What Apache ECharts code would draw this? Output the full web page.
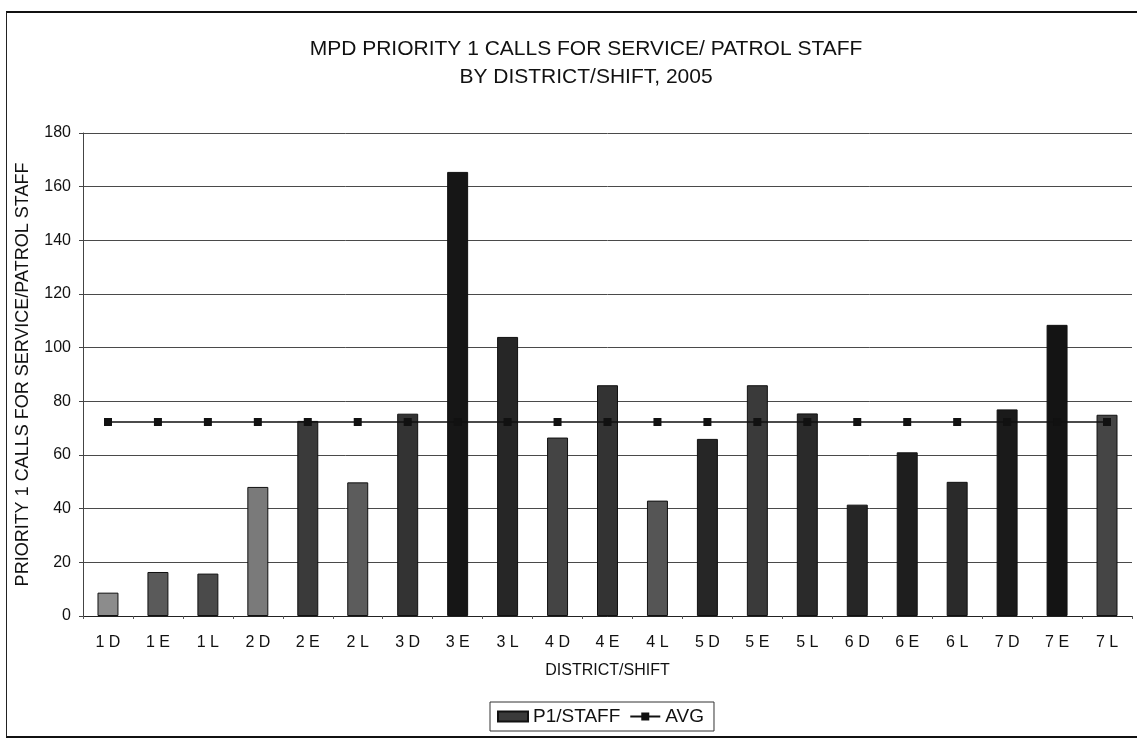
<!DOCTYPE html>
<html>
<head>
<meta charset="utf-8">
<script src="https://cdn.jsdelivr.net/npm/echarts@6/dist/echarts.min.js"></script>
<style>
  html, body { margin: 0; padding: 0; background: #fff; }
  #frame { position: absolute; left: 6px; top: 11px; width: 1131px; height: 723px;
           border-left: 1px solid #222; border-top: 2px solid #111; border-bottom: 2px solid #111; }
  #main { position: absolute; left: 0; top: 0; width: 1137px; height: 738px; }
</style>
</head>
<body>
<div id="frame"></div>
<div id="main"></div>
<script>
// district/shift categories
var categories = ['1 D','1 E','1 L','2 D','2 E','2 L','3 D','3 E','3 L','4 D','4 E','4 L',
                  '5 D','5 E','5 L','6 D','6 E','6 L','7 D','7 E','7 L'];
// P1 calls per patrol staff
var p1Staff = [8.7, 16.4, 15.8, 48.1, 72.7, 49.8, 75.4, 165.5, 104, 66.5, 86, 43,
               66, 86, 75.5, 41.5, 61, 50, 77, 108.5, 75];
// average line
var avg = [72.3, 72.3, 72.3, 72.3, 72.3, 72.3, 72.3, 72.3, 72.3, 72.3, 72.3, 72.3,
           72.3, 72.3, 72.3, 72.3, 72.3, 72.3, 72.3, 72.3, 72.3];
var yTicks = [0, 20, 40, 60, 80, 100, 120, 140, 160, 180];

// scanned grey shades of each bar
var shades = ['#8c8c8c','#5a5a5a','#4a4a4a','#7a7a7a','#3a3a3a','#5c5c5c','#333','#161616','#262626',
              '#444','#333','#555','#262626','#3a3a3a','#2a2a2a','#262626','#1e1e1e','#2a2a2a',
              '#1a1a1a','#141414','#454545'];

var font = 'Liberation Sans, Arial, sans-serif';
var chart = echarts.init(document.getElementById('main'));

var option = {
    backgroundColor: 'transparent',
    animation: false,
    title: {
        text: 'MPD PRIORITY 1 CALLS FOR SERVICE/ PATROL STAFF\nBY DISTRICT/SHIFT, 2005',
        left: 581,
        textAlign: 'center',
        top: 30,
        textStyle: { fontFamily: font, fontSize: 21, fontWeight: 'normal', color: '#111', lineHeight: 28 }
    },
    legend: {
        data: [
            { name: 'P1/STAFF', icon: 'rect' },
            { name: 'AVG' }
        ],
        left: 490,
        top: 702,
        padding: [5, 10, 5, 7],
        itemGap: 9,
        itemWidth: 30,
        itemHeight: 10,
        borderColor: '#333',
        borderWidth: 1,
        textStyle: { fontFamily: font, fontSize: 19, color: '#111' }
    },
    grid: { left: 83, right: 5, top: 133, bottom: 122 },
    xAxis: {
        type: 'category',
        data: categories,
        name: 'DISTRICT/SHIFT',
        nameLocation: 'middle',
        nameGap: 47,
        nameTextStyle: { fontFamily: font, fontSize: 16, color: '#111' },
        axisLine: { lineStyle: { color: '#222', width: 1 } },
        axisTick: { show: true, length: 3, lineStyle: { color: '#555' } },
        axisLabel: { fontFamily: font, fontSize: 16, color: '#111', margin: 19 }
    },
    yAxis: {
        type: 'value',
        min: 0,
        max: yTicks[yTicks.length - 1],
        interval: yTicks[1] - yTicks[0],
        name: 'PRIORITY 1 CALLS FOR SERVICE/PATROL STAFF',
        nameLocation: 'middle',
        nameGap: 51,
        nameTextStyle: { fontFamily: font, fontSize: 18, color: '#111' },
        axisLine: { show: true, lineStyle: { color: '#444', width: 1 } },
        axisTick: { show: true, length: 4, lineStyle: { color: '#444' } },
        axisLabel: { fontFamily: font, fontSize: 16, color: '#111', margin: 12 },
        splitLine: { show: true, lineStyle: { color: '#4a4a4a', width: 1 } }
    },
    series: [
        {
            name: 'P1/STAFF',
            type: 'bar',
            barCategoryGap: '58%',
            itemStyle: { color: '#3a3a3a', borderColor: '#111', borderWidth: 1 },
            data: p1Staff.map(function (v, i) {
                return { value: v, itemStyle: { color: shades[i] } };
            })
        },
        {
            name: 'AVG',
            type: 'line',
            data: avg,
            symbol: 'rect',
            symbolSize: 8,
            z: 5,
            lineStyle: { color: '#111', width: 1.5 },
            itemStyle: { color: '#111' }
        }
    ]
};
chart.setOption(option);
</script>
</body>
</html>
